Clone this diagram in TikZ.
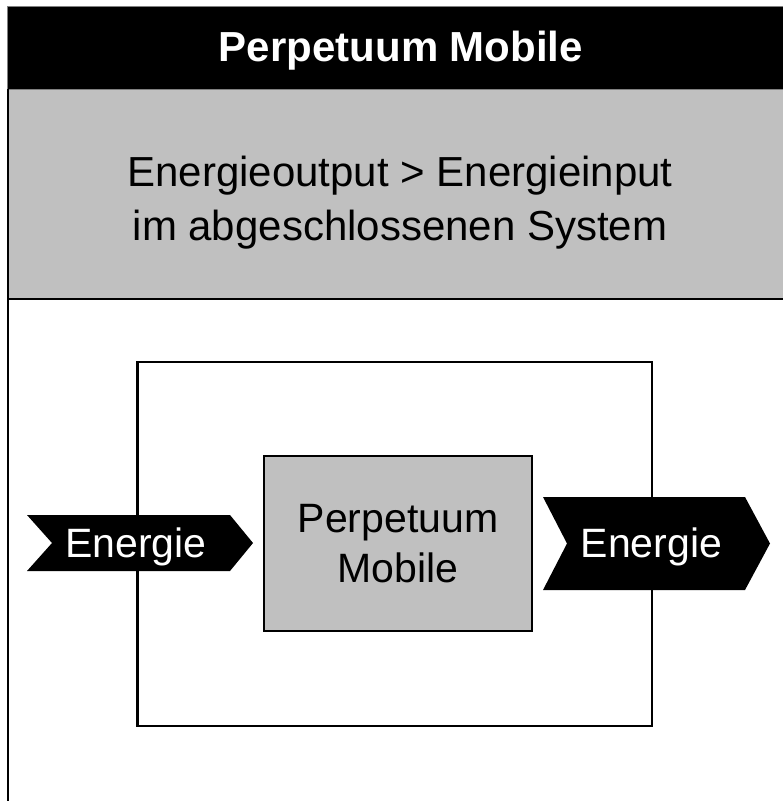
\documentclass[tikz,border=0pt]{standalone}
\usepackage{fontspec}
\setmainfont{Liberation Sans}
\definecolor{bandgray}{RGB}{192,192,192}
\definecolor{edgegray}{RGB}{128,128,128}
\begin{document}
\begin{tikzpicture}[x=1pt,y=-1pt,
  thick line/.style={draw=black, line width=2.4pt},
  thin edge/.style={draw=edgegray, line width=1pt},
  bigtxt/.style={font=\fontsize{41}{50}\selectfont, inner sep=0pt},
  titletxt/.style={font=\fontsize{42}{48}\selectfont\bfseries, text=white, inner sep=0pt},
  claimtxt/.style={font=\fontsize{42}{54}\selectfont, inner sep=0pt, align=center},
  chevron/.style={fill=black},
  boxstyle/.style={thick line, inner sep=0pt}
]
\useasboundingbox (0,0) rectangle (783,801);
\clip (0,0) rectangle (783,801);
% header
\fill[black] (7,6) rectangle (800,89);
\draw[thin edge] (7,6) -- (800,6);
\draw[thin edge] (7,6) -- (7,89);
% band
\fill[bandgray] (8,89) rectangle (800,299);
\draw[thin edge] (8,89) -- (800,89);
\draw[thick line] (8,299) -- (800,299);
\draw[thick line] (8,89) -- (8,810);
% texts
\node[titletxt, anchor=base] (title) at (401,61) {Perpetuum Mobile};
\node[claimtxt, anchor=base] (claim) at (400,240) {Energieoutput > Energieinput\\im abgeschlossenen System};
% system box
\node[boxstyle, minimum width=514.5pt, minimum height=364pt] (system) at (394.75,544) {};
\node[boxstyle, fill=bandgray, minimum width=268pt, minimum height=175pt, align=center, font=\fontsize{41}{50}\selectfont] (pm) at (398,543.5) {Perpetuum\\Mobile};
% arrows
\fill[chevron] (27,515) -- (230,515) -- (253,543) -- (230,571) -- (27,571) -- (52,543) -- cycle;
\node[bigtxt, text=white, anchor=base] (ein) at (136,557) {Energie};
\fill[chevron] (543,497) -- (745,497) -- (770,543.5) -- (745,590) -- (543,590) -- (567,543.5) -- cycle;
\node[bigtxt, text=white, anchor=base] (aus) at (651.5,557) {Energie};
\end{tikzpicture}
\end{document}
